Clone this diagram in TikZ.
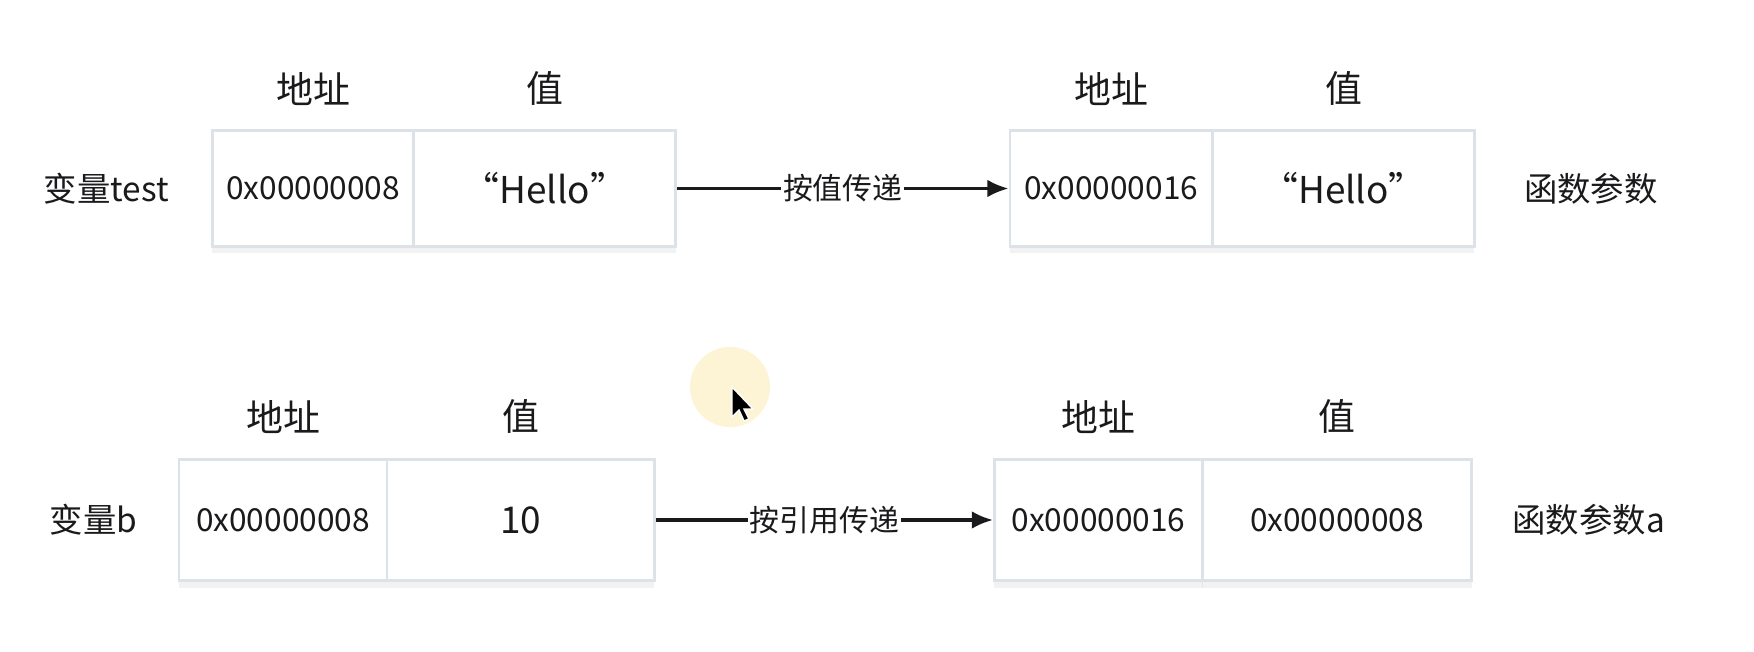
\documentclass[tikz,border=0pt]{standalone}
\usepackage{fontspec}
\setmainfont{Noto Sans CJK SC}
\usetikzlibrary{arrows.meta, positioning, shadows}
\definecolor{cellline}{HTML}{DDE2E9}
\definecolor{ink}     {HTML}{1A1A1C}
\definecolor{hilite}  {HTML}{FCF4D4}
\tikzset{
  cell/.style={draw=cellline, fill=white, line width=0.8pt, inner sep=0pt,
    font=\fontsize{9}{10}\selectfont, text=ink,
    drop shadow={opacity=0.10, shadow xshift=0pt, shadow yshift=-2pt}},
  head/.style={font=\fontsize{10.5}{12}\selectfont, text=ink, inner sep=1pt},
  side/.style={font=\fontsize{9.5}{11}\selectfont, text=ink, inner sep=1pt},
  pass/.style={-{Latex[length=6pt,width=5pt]}, line width=0.9pt, ink},
  passlabel/.style={fill=white, inner sep=0.5pt, font=\fontsize{8.5}{10}\selectfont, text=ink},
}

\begin{document}
\begin{tikzpicture}[x=0.01cm, y=-0.01cm]
      \useasboundingbox (0,0) rectangle (1754,652);
      \fill[white] (0,0) rectangle (1754,652);
      % by value
      \node[cell, minimum width=2.014cm, minimum height=1.152cm] (addrA) at (313.2,188.5) {0x00000008};
      \node[cell, minimum width=2.617cm, minimum height=1.152cm] (valA)  at (544.8,188.5) {\fontsize{10.5}{12}\selectfont “Hello”};
      \node[cell, minimum width=2.026cm, minimum height=1.152cm] (addrB) at (1111.3,188.5) {0x00000016};
      \node[cell, minimum width=2.617cm, minimum height=1.152cm] (valB)  at (1343.5,188.5) {\fontsize{10.5}{12}\selectfont “Hello”};
      \node[head, above=0.2cm of addrA] (hAddrA) {地址};
      \node[head, above=0.2cm of valA]  (hValA)  {值};
      \node[head, above=0.2cm of addrB] (hAddrB) {地址};
      \node[head, above=0.2cm of valB]  (hValB)  {值};
      \node[side, left=0.38cm of addrA] (varTest) {变量test};
      \node[side, right=0.44cm of valB] (argTest) {函数参数};
      \draw[pass] (valA.east) -- node[passlabel] (byValue) {按值传递} (addrB.west);
      % by reference
      \node[cell, minimum width=2.08cm, minimum height=1.209cm] (addrC) at (283,520) {0x00000008};
      \node[cell, minimum width=2.674cm, minimum height=1.209cm] (valC)  at (520.7,520) {\fontsize{10.5}{12}\selectfont 10};
      \node[cell, minimum width=2.081cm, minimum height=1.209cm] (addrD) at (1098.5,520) {0x00000016};
      \node[cell, minimum width=2.695cm, minimum height=1.209cm] (valD)  at (1337,520) {0x00000008};
      \node[head, above=0.2cm of addrC] (hAddrC) {地址};
      \node[head, above=0.2cm of valC]  (hValC)  {值};
      \node[head, above=0.2cm of addrD] (hAddrD) {地址};
      \node[head, above=0.2cm of valD]  (hValD)  {值};
      \node[side, left=0.36cm of addrC] (varB) {变量b};
      \node[side, right=0.35cm of valD] (argA) {函数参数a};
      \draw[pass] (valC.east) -- node[passlabel] (byRef) {按引用传递} (addrD.west);
      % pointer
      \fill[hilite] (730,387) circle (0.40cm);
      \filldraw[fill=black, draw=white, line width=0.4pt]
        (732,387) -- ++(0,30) -- ++(7,-7) -- ++(5,11) -- ++(5,-2) -- ++(-5,-10) -- ++(9,0) -- cycle;
    \end{tikzpicture}
\end{document}
